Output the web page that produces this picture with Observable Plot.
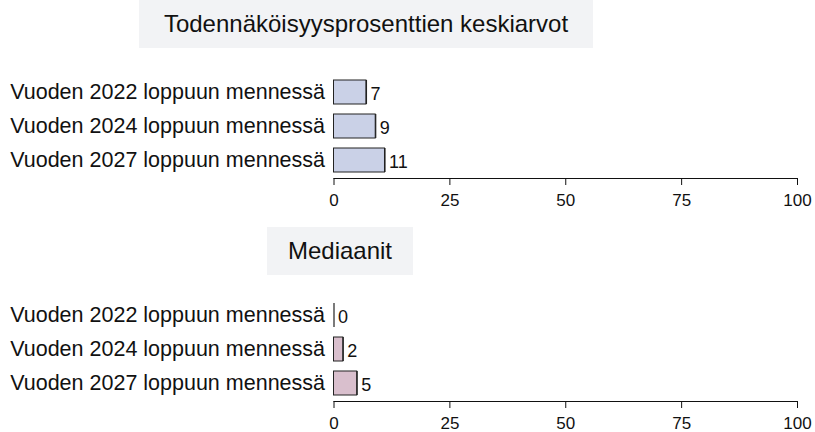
<!DOCTYPE html>
<html>
<head>
<meta charset="utf-8">
<script src="https://cdn.jsdelivr.net/npm/d3@7"></script>
<script src="https://cdn.jsdelivr.net/npm/@observablehq/plot@0.6"></script>
<style>
  html, body { margin: 0; padding: 0; background: #fff; }
  #root { position: relative; width: 815px; height: 432px; overflow: hidden;
          font-family: "Liberation Sans", Arial, sans-serif; color: #111; }
  .title { position: absolute; background: #f2f3f5; display: flex; align-items: center;
           justify-content: center; font-size: 24px; color: #111; }
  .chart { position: absolute; left: 0; }
  .chart svg { display: block; }
</style>
</head>
<body>
<div id="root">
  <div class="title" id="t1" style="left:139px; top:0px; width:454px; height:48px;"></div>
  <div class="chart" id="c1" style="top:48px;"></div>
  <div class="title" id="t2" style="left:267px; top:227px; width:146px; height:48px;"></div>
  <div class="chart" id="c2" style="top:275px;"></div>
</div>
<script>
const titles = ["Todennäköisyysprosenttien keskiarvot", "Mediaanit"];
const categories = ["Vuoden 2022 loppuun mennessä", "Vuoden 2024 loppuun mennessä", "Vuoden 2027 loppuun mennessä"];
const meanValues = [7, 9, 11];
const medianValues = [0, 2, 5];
const xTicks = [0, 25, 50, 75, 100];

const font = '"Liberation Sans", Arial, sans-serif';

function panel(values, fill, marginTop) {
  const data = categories.map((c, i) => ({label: c, value: values[i]}));
  return Plot.plot({
    width: 815,
    height: marginTop + 103 + 30,
    marginLeft: 333.5,
    marginRight: 18,
    marginTop: marginTop,
    marginBottom: 30,
    style: {fontFamily: font, color: "#111", background: "transparent", overflow: "visible"},
    x: {domain: [0, 100]},
    y: {domain: categories, paddingInner: 0.28, paddingOuter: 0.12},
    marks: [
      Plot.barX(data, {x: "value", y: "label", fill: fill, stroke: "#222", strokeWidth: 1}),
      Plot.tickX(data, {x: "value", y: "label", stroke: "#222", strokeWidth: 1.2}),
      Plot.text(data, {x: "value", y: "label", text: d => String(d.value), textAnchor: "start",
                       dx: 4, dy: 1.5, fontSize: 18, fill: "#111"}),
      Plot.frame({anchor: "bottom", stroke: "#111"}),
      Plot.axisX({ticks: xTicks, tickSize: 7, tickPadding: 8, fontSize: 17, label: null, stroke: "#111"}),
      Plot.axisY({tickSize: 0, tickPadding: 9, fontSize: 21.5, label: null})
    ]
  });
}

document.getElementById("t1").textContent = titles[0];
document.getElementById("t2").textContent = titles[1];
document.getElementById("c1").appendChild(panel(meanValues, "#cad1e7", 27));
document.getElementById("c2").appendChild(panel(medianValues, "#d9bfcd", 23));
</script>
</body>
</html>
